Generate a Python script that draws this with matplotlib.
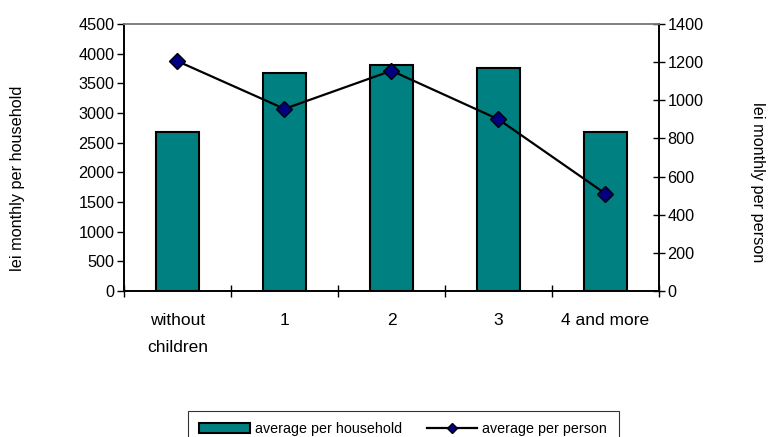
import matplotlib
matplotlib.use('Agg')
import matplotlib.pyplot as plt
from matplotlib.ticker import FixedLocator, NullFormatter

plt.rcParams['font.family'] = ['Liberation Sans', 'DejaVu Sans']

categories = ['without\nchildren', '1', '2', '3', '4 and more']
per_household = [2680, 3675, 3815, 3760, 2680]
per_person = [1205, 955, 1155, 900, 510]

W, H = 768, 437
fig = plt.figure(figsize=(W / 100, H / 100), dpi=100)
ax = fig.add_axes([124 / W, (H - 291) / H, 535 / W, 267 / H])
ax2 = ax.twinx()

x = list(range(len(categories)))
bars = ax.bar(x, per_household, width=0.4, color='#008080', edgecolor='black',
              linewidth=1.5, label='average per household', zorder=2)
line, = ax2.plot(x, per_person, color='black', linewidth=1.6, marker='D',
                 markersize=8, markerfacecolor='#000080', markeredgecolor='black',
                 markeredgewidth=1.0, label='average per person', zorder=3)

ax.set_xlim(-0.5, len(categories) - 0.5)
ax.set_ylim(0, 4500)
ax.set_yticks(range(0, 4501, 500))
ax2.set_ylim(0, 1400)
ax2.set_yticks(range(0, 1401, 200))

# category labels centred, tick marks on boundaries
ax.xaxis.set_major_locator(FixedLocator([i - 0.5 for i in range(len(categories) + 1)]))
ax.xaxis.set_major_formatter(NullFormatter())
ax.xaxis.set_minor_locator(FixedLocator(x))
ax.set_xticklabels(categories, minor=True, fontsize=12.5, linespacing=1.95)
ax.tick_params(axis='x', which='minor', length=0, pad=16)
ax.tick_params(axis='x', which='major', direction='inout', length=8, width=1)

ax.tick_params(axis='y', direction='out', length=5, width=1, labelsize=11.7, pad=2)
ax2.tick_params(axis='y', direction='inout', length=8, width=1, labelsize=11.7, pad=2)

for a in (ax, ax2):
    a.spines['top'].set_color('#808080')
    a.spines['top'].set_linewidth(1.2)
    a.spines['left'].set_linewidth(1.2)
    a.spines['right'].set_linewidth(1.2)
    a.spines['bottom'].set_linewidth(1.2)

fig.text(18 / W, 1 - 178 / H, 'lei monthly per household', rotation=90,
         ha='center', va='center', fontsize=11.7)
fig.text(758 / W, 1 - 182 / H, 'lei monthly per person', rotation=270,
         ha='center', va='center', fontsize=11.7)

leg = fig.legend([bars, line], ['average per household', 'average per person'],
                 loc='upper left', bbox_to_anchor=(188 / W, 1 - 411 / H),
                 ncol=2, fontsize=10.3, frameon=True, fancybox=False,
                 edgecolor='black', borderpad=0.8, handlelength=3.5,
                 columnspacing=1.7, handletextpad=0.4, borderaxespad=0,
                 markerscale=0.6)
leg.get_frame().set_linewidth(0.8)

fig.savefig('out.png', dpi=100)
